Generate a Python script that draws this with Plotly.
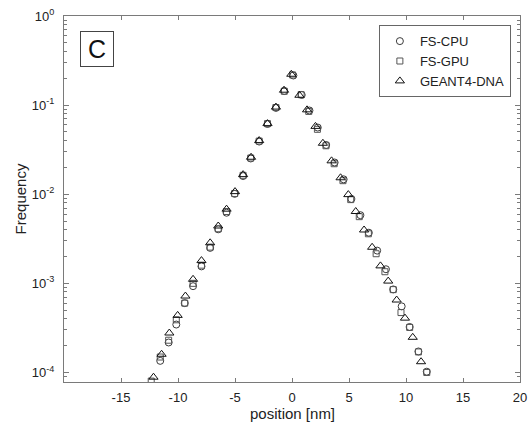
import plotly.graph_objects as go

# FS-CPU (circles)
cpu_x = [-11.56, -10.82, -10.15, -9.41, -8.68, -7.94, -7.18, -6.47, -5.74, -5.03,
         -4.29, -3.62, -2.88, -2.15, -1.41, -0.68, 0.12, 0.85, 1.53, 2.26,
         3.00, 3.74, 4.53, 5.21, 6.00, 6.74, 7.47, 8.24, 8.88, 9.62,
         10.32, 11.09, 11.82]
cpu_y = [1.35e-4, 2.17e-4, 3.45e-4, 6.0e-4, 9.3e-4, 1.55e-3, 2.5e-3, 4.04e-3, 6.2e-3, 0.0101,
         0.0160, 0.0252, 0.0390, 0.0614, 0.093, 0.144, 0.215, 0.130, 0.087, 0.056,
         0.0357, 0.0227, 0.0147, 0.00885, 0.00582, 0.0037, 0.00233, 0.00144, 0.000855, 0.000552,
         0.000324, 0.000172, 0.000102]

# FS-GPU (squares)
gpu_x = [-12.35, -11.56, -10.82, -10.15, -9.41, -8.68, -7.94, -7.18, -6.47, -5.74,
         -5.03, -4.29, -3.62, -2.88, -2.15, -1.41, -0.68, 0.05, 0.80, 1.47,
         2.23, 2.98, 3.70, 4.47, 5.15, 5.90, 6.70, 7.38, 8.15, 8.88,
         9.56, 10.32, 11.09, 11.82]
gpu_y = [8.0e-5, 1.49e-4, 2.3e-4, 3.9e-4, 6.0e-4, 1.0e-3, 1.6e-3, 2.55e-3, 4.1e-3, 6.4e-3,
         0.0102, 0.0163, 0.0255, 0.0395, 0.062, 0.094, 0.143, 0.218, 0.131, 0.085,
         0.0535, 0.035, 0.022, 0.0142, 0.0087, 0.0056, 0.0036, 0.00215, 0.00135, 0.00085,
         0.00047, 0.00032, 0.00017, 0.00010]

# GEANT4-DNA (triangles)
g4_x = [-12.15, -11.44, -10.76, -10.03, -9.35, -8.68, -7.94, -7.18, -6.47, -5.74,
        -5.00, -4.29, -3.59, -2.88, -2.15, -1.41, -0.70, -0.06, 0.65, 1.32,
        2.06, 2.71, 3.47, 4.26, 4.94, 5.59, 6.32, 7.03, 7.76, 8.44,
        9.18, 9.91, 10.59, 11.32]
g4_y = [8.85e-5, 1.6e-4, 2.77e-4, 4.37e-4, 7.2e-4, 1.11e-3, 1.8e-3, 2.85e-3, 4.4e-3, 6.8e-3,
        0.0107, 0.0166, 0.026, 0.040, 0.062, 0.095, 0.147, 0.222, 0.129, 0.0885,
        0.0577, 0.0373, 0.0237, 0.0153, 0.0099, 0.0064, 0.00397, 0.00254, 0.00157, 0.00106,
        0.00065, 0.000407, 0.000248, 0.000132]

x_ticks = [-15, -10, -5, 0, 5, 10, 15, 20]
x_tick_text = ["-15", "-10", "-5", "0", "5", "10", "15", "20"]
y_ticks = [1e-4, 1e-3, 1e-2, 1e-1, 1]
y_tick_text = ["10<sup>-4</sup>", "10<sup>-3</sup>", "10<sup>-2</sup>",
               "10<sup>-1</sup>", "10<sup>0</sup>"]
y_minor = [m * 10.0 ** e for e in range(-5, 0) for m in range(2, 10)]

FONT = "Liberation Sans, Arial, Helvetica, sans-serif"
AXIS_COLOR = "#7a7a7a"

fig = go.Figure()
fig.add_trace(go.Scatter(
    x=cpu_x, y=cpu_y, mode="markers", name="FS-CPU",
    marker=dict(symbol="circle-open", size=7, color="#3a3a3a", line=dict(width=1)),
))
fig.add_trace(go.Scatter(
    x=gpu_x, y=gpu_y, mode="markers", name="FS-GPU",
    marker=dict(symbol="square-open", size=6, color="#555555", line=dict(width=1)),
))
fig.add_trace(go.Scatter(
    x=g4_x, y=g4_y, mode="markers", name="GEANT4-DNA",
    marker=dict(symbol="triangle-up-open", size=8, color="#111111", line=dict(width=1)),
))

fig.update_layout(
    width=529, height=424,
    margin=dict(l=64, r=9, t=16, b=42),
    paper_bgcolor="white", plot_bgcolor="white",
    font=dict(family=FONT, size=13, color="#222222"),
    showlegend=True,
    legend=dict(
        x=0.98, y=0.975, xanchor="right", yanchor="top",
        bordercolor="#666666", borderwidth=1, bgcolor="white",
        font=dict(size=13, color="#222222"),
        tracegroupgap=0, itemwidth=30,
    ),
    annotations=[
        # panel tag
        dict(
            text="C", xref="paper", yref="paper", x=0.0713, y=0.91,
            xanchor="center", yanchor="middle", showarrow=False,
            font=dict(size=25, color="#111111", family=FONT),
            width=32, height=34, borderpad=0, borderwidth=1,
            bordercolor="#444444", bgcolor="white",
        ),
        # x-axis title placed below the tick labels
        dict(
            text="position [nm]", xref="paper", yref="paper", x=0.5, y=-0.085,
            xanchor="center", yanchor="middle", showarrow=False,
            font=dict(size=15, color="#222222", family=FONT),
        ),
    ],
)

fig.update_xaxes(
    range=[-20, 20], tickmode="array", tickvals=x_ticks, ticktext=x_tick_text,
    ticks="inside", ticklen=4, tickcolor=AXIS_COLOR, ticklabelstandoff=3,
    showline=True, linecolor=AXIS_COLOR, linewidth=1, mirror="ticks",
    showgrid=False, zeroline=False, automargin=False,
    tickfont=dict(size=13),
)
fig.update_yaxes(
    type="log", range=[-4.107, 0], tickmode="array",
    tickvals=y_ticks, ticktext=y_tick_text,
    ticks="inside", ticklen=5, tickcolor=AXIS_COLOR, ticklabelstandoff=6,
    minor=dict(tickmode="array", tickvals=y_minor, ticks="inside",
               ticklen=3, tickcolor=AXIS_COLOR),
    showline=True, linecolor=AXIS_COLOR, linewidth=1, mirror="ticks",
    showgrid=False, zeroline=False, automargin=False,
    title=dict(text="Frequency", font=dict(size=15), standoff=1),
    tickfont=dict(size=13),
)

fig.write_html("out.html")
